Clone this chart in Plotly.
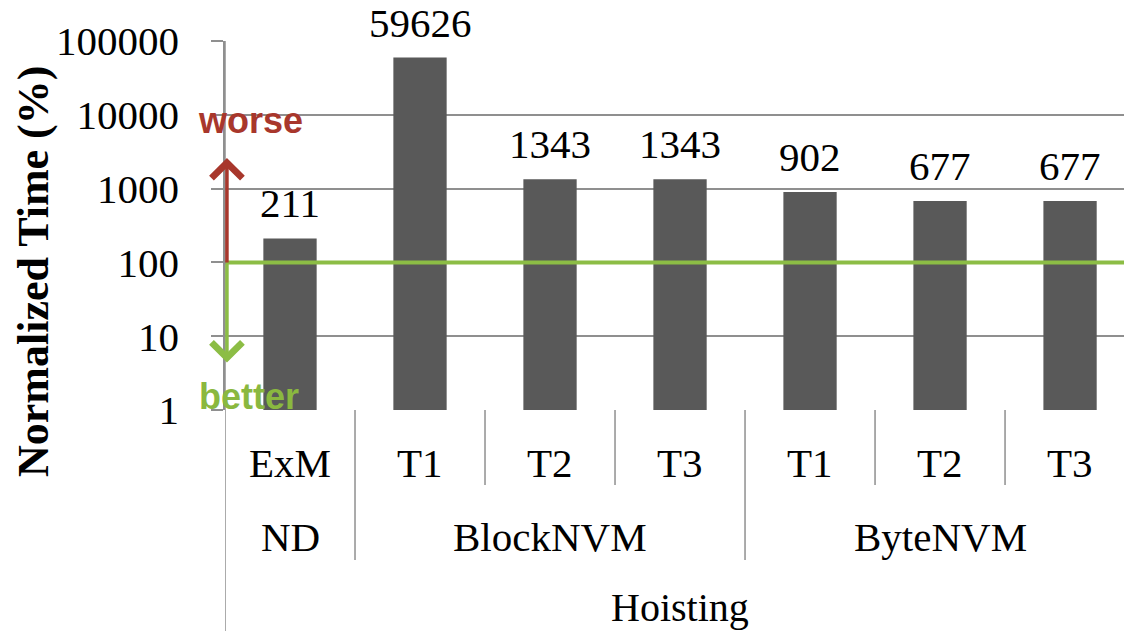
import plotly.graph_objects as go
import math

# ---- data ----
sub_labels = ["ExM", "T1", "T2", "T3", "T1", "T2", "T3"]
group_labels = ["ND", "BlockNVM", "ByteNVM"]
group_sizes = [1, 3, 3]
values = [211, 59626, 1343, 1343, 902, 677, 677]
outer_label = "Hoisting"
y_title = "Normalized Time (%)"
tick_vals = [1, 10, 100, 1000, 10000, 100000]
tick_text = ["1", "10", "100", "1000", "10000", "100000"]
baseline = 100

SERIF = "Liberation Serif, Times New Roman, serif"
SANS = "Liberation Sans, Arial, sans-serif"
GRID = "#8f8f8f"
BAR = "#595959"
GREEN = "#8cbd45"
RED = "#a8372c"

W, H = 1124, 631
ML, MT, MB = 225, 41, 221
plot_h = H - MT - MB
plot_w = W - ML

x = list(range(len(values)))

fig = go.Figure()
fig.add_trace(go.Bar(
    x=x, y=values, width=0.41,
    marker=dict(color=BAR, line=dict(width=0)),
    cliponaxis=False, showlegend=False, hoverinfo="x+y",
))

def py(pix_below):
    return -pix_below / plot_h

shapes = []
# baseline green line
shapes.append(dict(type="line", xref="x", yref="y", x0=-0.56, x1=6.6,
                   y0=baseline, y1=baseline,
                   line=dict(color=GREEN, width=4), layer="above"))
# left axis line extending down
shapes.append(dict(type="line", xref="x", yref="paper", x0=-0.5, x1=-0.5,
                   y0=1, y1=py(221), line=dict(color=GRID, width=1.5)))
# separators
bounds = []
acc = 0
for s in group_sizes:
    acc += s
    bounds.append(acc)
for i in range(1, len(values) + 1):
    xb = i - 0.5
    is_group = i in bounds
    shapes.append(dict(type="line", xref="x", yref="paper", x0=xb, x1=xb,
                       y0=0, y1=py(150 if is_group else 75),
                       line=dict(color=GRID, width=1.5)))

annotations = []
# value labels above bars
for i, v in zip(x, values):
    annotations.append(dict(x=i, y=math.log10(v), xref="x", yref="y", text=str(v),
                            showarrow=False, yanchor="bottom", xanchor="center", yshift=10,
                            font=dict(family=SERIF, size=41, color="black")))
for i, lab in enumerate(sub_labels):
    annotations.append(dict(x=i, y=py(53), xref="x", yref="paper", text=lab,
                            showarrow=False, font=dict(family=SERIF, size=41, color="black"),
                            yanchor="middle", xanchor="center"))
start = 0
for g, s in zip(group_labels, group_sizes):
    center = start + (s - 1) / 2
    annotations.append(dict(x=center, y=py(127), xref="x", yref="paper", text=g,
                            showarrow=False, font=dict(family=SERIF, size=41, color="black"),
                            yanchor="middle", xanchor="center"))
    start += s
annotations.append(dict(x=(len(values) - 1) / 2, y=py(197), xref="x", yref="paper",
                        text=outer_label, showarrow=False,
                        font=dict(family=SERIF, size=40, color="black"),
                        yanchor="middle", xanchor="center"))
# y title
annotations.append(dict(x=(33 - ML) / plot_w, y=(410 - 272) / plot_h, xref="paper", yref="paper",
                        text="<b>" + y_title + "</b>", showarrow=False, textangle=-90,
                        xanchor="center", yanchor="middle",
                        font=dict(family=SERIF, size=44, color="black")))
# arrows
annotations.append(dict(x=-0.485, y=math.log10(2600), xref="x", yref="y", ax=0, ay=106,
                        text="", showarrow=True, arrowhead=4, arrowsize=1.7, arrowwidth=3.5,
                        arrowcolor=RED))
annotations.append(dict(x=-0.485, y=math.log10(4.4), xref="x", yref="y", ax=0, ay=-100,
                        text="", showarrow=True, arrowhead=4, arrowsize=1.7, arrowwidth=3.5,
                        arrowcolor=GREEN))
annotations.append(dict(x=(250 - ML) / plot_w, y=(410 - 121) / plot_h, xref="paper", yref="paper",
                        text="<b>worse</b>", showarrow=False, xanchor="center", yanchor="middle",
                        font=dict(family=SANS, size=36, color=RED)))
annotations.append(dict(x=(249 - ML) / plot_w, y=(410 - 396) / plot_h, xref="paper", yref="paper",
                        text="<b>better</b>", showarrow=False, xanchor="center", yanchor="middle",
                        font=dict(family=SANS, size=36, color="#8ab83f")))

fig.update_layout(
    width=W, height=H,
    margin=dict(l=ML, r=0, t=MT, b=MB, autoexpand=False),
    paper_bgcolor="white", plot_bgcolor="white",
    shapes=shapes, annotations=annotations,
    xaxis=dict(range=[-0.5, 6.415], showticklabels=False, showgrid=False,
               zeroline=False, showline=False, ticks=""),
    yaxis=dict(type="log", range=[0, 5], tickvals=tick_vals, ticktext=tick_text,
               showgrid=True, gridcolor=GRID, gridwidth=1.5, zeroline=False,
               showline=True, linecolor=GRID, linewidth=1.5,
               ticks="outside", ticklen=12, tickcolor=GRID, tickwidth=1.5,
               ticklabelstandoff=24,
               tickfont=dict(family=SERIF, size=41, color="black")),
)

fig.write_html("out.html", config={"displayModeBar": False},
               post_script="document.body.style.margin='0';document.body.style.padding='0';")
